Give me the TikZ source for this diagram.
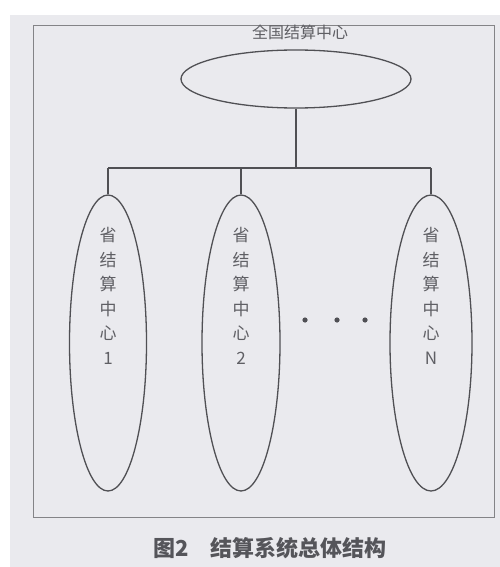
\documentclass[tikz,border=0pt]{standalone}
\usepackage{fontspec}
\newfontfamily\cjk{Noto Sans CJK SC}
\usetikzlibrary{shapes.geometric}
\definecolor{pagebg}{RGB}{234,234,238}
\definecolor{linec}{RGB}{80,80,84}
\definecolor{textc}{RGB}{95,95,100}
\begin{document}
\begin{tikzpicture}[x=1pt,y=-1pt,
  oval/.style={draw=linec,line width=1.3pt,ellipse,inner sep=0pt},
  conn/.style={draw=linec,line width=1.2pt},
  lbl/.style={font=\cjk\fontsize{16}{18}\selectfont,text=textc},
  vlbl/.style={font=\cjk\fontsize{17}{24.5}\selectfont,text=textc,align=center}]
\useasboundingbox (0,0) rectangle (500,567);
\fill[white] (0,0) rectangle (500,567);
\fill[pagebg] (10,15) rectangle (500,567);
\draw[draw=linec!70,line width=0.8pt] (33,25) rectangle (494,517);
% top
\node[lbl] (toplbl) at (300,32) {全国结算中心};
\node[oval,minimum width=230,minimum height=58] (top) at (296,79) {};
% provincial
\node[oval,minimum width=77,minimum height=296] (p1) at (108,343) {};
\node[oval,minimum width=78,minimum height=296] (p2) at (241,343) {};
\node[oval,minimum width=82,minimum height=296] (pN) at (431,343) {};
\node[vlbl] (t1) at (108,296) {省\\结\\算\\中\\心\\1};
\node[vlbl] (t2) at (241,296) {省\\结\\算\\中\\心\\2};
\node[vlbl] (tN) at (431,296) {省\\结\\算\\中\\心\\N};
% connectors
\coordinate (l) at (108,168);
\coordinate (m) at (241,168);
\coordinate (r) at (431,168);
\draw[conn] (top.south) -- (top.south |- l);
\draw[conn] (l) -- (r);
\draw[conn] (l) -- (p1.north);
\draw[conn] (m) -- (p2.north);
\draw[conn] (r) -- (pN.north);
% dots
\foreach \x/\n in {305/d1,337/d2,365/d3}
  \fill[linec] (\x,320) circle (2.6) coordinate (\n);
% caption
\node[font=\cjk\bfseries\fontsize{22}{24}\selectfont,text=textc!90!black] (cap) at (270,548) {图2\hspace{1em}结算系统总体结构};
\end{tikzpicture}
\end{document}
